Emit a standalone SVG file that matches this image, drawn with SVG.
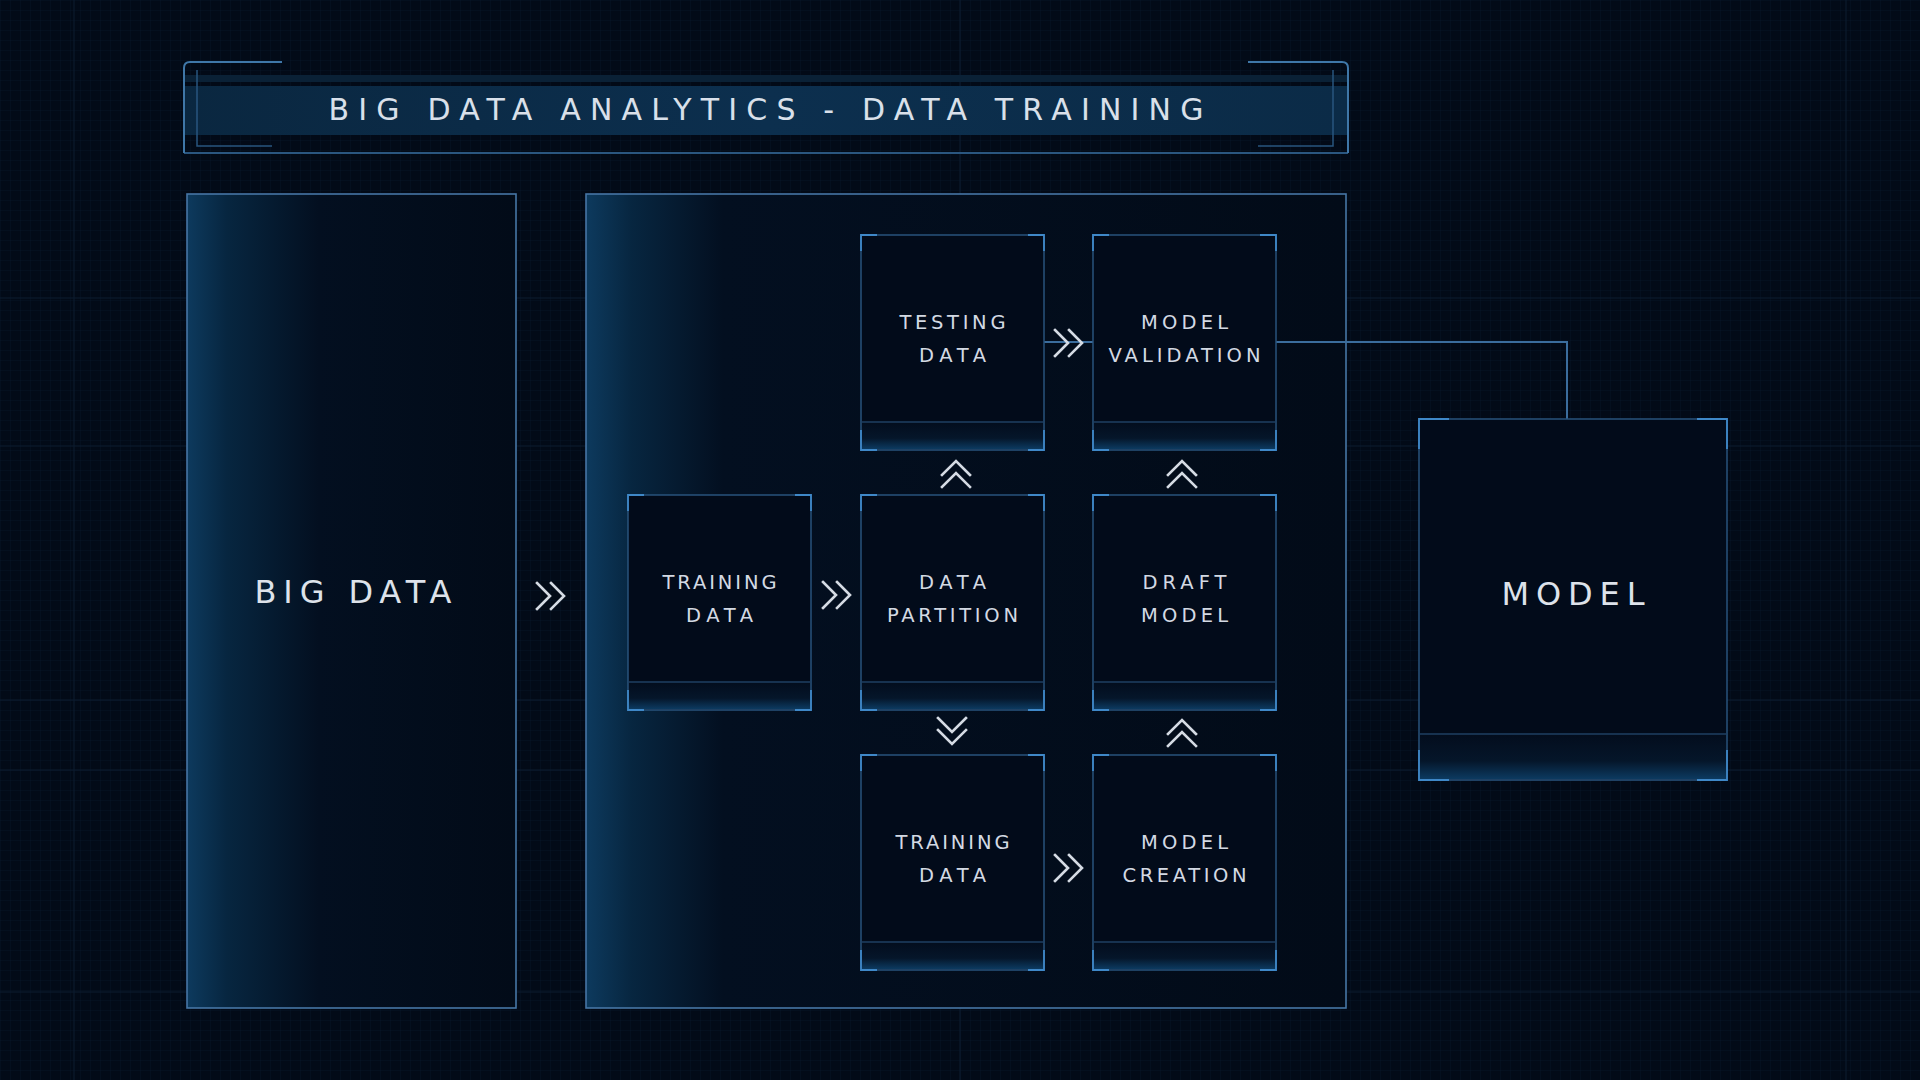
<svg xmlns="http://www.w3.org/2000/svg" width="1920" height="1080" viewBox="0 0 1920 1080">
<defs>
<style>
.lbl{font-family:"DejaVu Sans","Liberation Sans",sans-serif;font-size:19.5px;fill:#d3d9e3;text-anchor:middle}
.big{font-family:"DejaVu Sans","Liberation Sans",sans-serif;font-size:32px;fill:#dde2ea;text-anchor:middle}
.ttl{font-family:"DejaVu Sans","Liberation Sans",sans-serif;font-size:30px;fill:#d9e0ea;text-anchor:middle}
.box{fill:#020b1a;stroke:#29537c;stroke-width:1.5}
.band{fill:url(#bandg);stroke:none}
.bline{stroke:#173250;stroke-width:2;fill:none}
.acc{stroke:#3f88c8;stroke-width:1.8;fill:none}
.chev{stroke:#d5dbe4;stroke-width:2.6;fill:none;stroke-linecap:square}
.panel{fill:url(#panelg);stroke:#4676a6;stroke-width:1.6}
.conn{stroke:#3b6d9d;stroke-width:2;fill:none}
.grid{stroke:#0c1d30;stroke-width:1;fill:none}
</style>
<linearGradient id="panelg" x1="0" y1="0" x2="1" y2="0">
<stop offset="0" stop-color="#0d3a5e"/>
<stop offset="0.12" stop-color="#072640"/>
<stop offset="0.4" stop-color="#030f20"/>
<stop offset="1" stop-color="#020b18"/>
</linearGradient>
<linearGradient id="panelg2" x1="0" y1="0" x2="1" y2="0">
<stop offset="0" stop-color="#0d3a5e"/>
<stop offset="0.06" stop-color="#072640"/>
<stop offset="0.18" stop-color="#030f20"/>
<stop offset="1" stop-color="#020b18"/>
</linearGradient>
<linearGradient id="bandg" x1="0" y1="0" x2="0" y2="1">
<stop offset="0" stop-color="#030d1d"/>
<stop offset="0.6" stop-color="#05162a"/>
<stop offset="1" stop-color="#0c3a60"/>
</linearGradient>
<linearGradient id="titleg" x1="0" y1="0" x2="1" y2="0">
<stop offset="0" stop-color="#0a2740"/>
<stop offset="0.5" stop-color="#0c2f4e"/>
<stop offset="1" stop-color="#0b2b47"/>
</linearGradient>
<pattern id="fine" width="10" height="10" patternUnits="userSpaceOnUse">
<path d="M10 0H0V10" fill="none" stroke="#061426" stroke-width="1"/>
</pattern>
<g id="chevR"><path class="chev" d="M-14 -13L-1 0L-14 13M0 -13L13 0L0 13"/></g>
<g id="chevU"><path class="chev" d="M-14 1L0 -13L14 1M-14 13L0 -1L14 13"/></g>
<g id="chevD"><path class="chev" d="M-14 -13L0 1L14 -13M-14 -1L0 13L14 -1"/></g>
</defs>

<rect width="1920" height="1080" fill="#020a17"/>
<rect width="1920" height="1080" fill="url(#fine)"/>
<g id="bg-lines" class="grid">
<path d="M0 298H1920M0 446H1920M0 700H1920M0 770H1920M0 992H1920M74 0V1080M1846 0V1080M665 193V1008M1253 193V1008M960 0V1080"/>
</g>

<g id="title">
<rect x="184" y="75" width="1164" height="7" fill="#0a2136"/>
<rect x="184" y="86" width="1164" height="49" fill="url(#titleg)"/>
<path d="M184 153H1348" stroke="#2a5680" stroke-width="2" fill="none"/>
<path d="M184 153V68Q184 62 190 62H282" stroke="#3f77a8" stroke-width="2" fill="none"/>
<path d="M197 70V146H272" stroke="#29557f" stroke-width="1.5" fill="none"/>
<path d="M1348 153V68Q1348 62 1342 62H1248" stroke="#3f77a8" stroke-width="2" fill="none"/>
<path d="M1333 70V146H1258" stroke="#29557f" stroke-width="1.5" fill="none"/>
<text class="ttl" x="766" y="120" textLength="875" lengthAdjust="spacing">BIG DATA ANALYTICS - DATA TRAINING</text>
</g>

<g id="panel-bigdata">
<rect class="panel" x="187" y="194" width="329" height="814"/>
<text class="big" x="353" y="603" textLength="197" lengthAdjust="spacing">BIG DATA</text>
</g>

<g id="panel-process">
<rect class="panel" x="586" y="194" width="760" height="814" style="fill:url(#panelg2)"/>
</g>

<g id="connectors">
<polyline class="conn" points="1044,342 1567,342 1567,419"/>
<use href="#chevR" x="551" y="596"/>
<use href="#chevR" x="837" y="595"/>
<use href="#chevR" x="1069" y="343"/>
<use href="#chevR" x="1069" y="868"/>
<use href="#chevU" x="956" y="474"/>
<use href="#chevU" x="1182" y="474"/>
<use href="#chevD" x="952" y="731"/>
<use href="#chevU" x="1182" y="733"/>
</g>

<g id="node-testing" transform="translate(861,235)">
<rect class="box" width="183" height="215"/>
<rect class="band" x="1" y="187" width="181" height="27"/>
<path class="bline" d="M1 187H182"/>
<path class="acc" d="M0 16V0H16M167 0H183V16M0 195V215H16M167 215H183V195"/>
<text class="lbl" x="91.5" y="94" textLength="106" lengthAdjust="spacing">TESTING</text>
<text class="lbl" x="91.5" y="127" textLength="67" lengthAdjust="spacing">DATA</text>
</g>

<g id="node-validation" transform="translate(1093,235)">
<rect class="box" width="183" height="215"/>
<rect class="band" x="1" y="187" width="181" height="27"/>
<path class="bline" d="M1 187H182"/>
<path class="acc" d="M0 16V0H16M167 0H183V16M0 195V215H16M167 215H183V195"/>
<text class="lbl" x="91.5" y="94" textLength="87" lengthAdjust="spacing">MODEL</text>
<text class="lbl" x="91.5" y="127" textLength="152" lengthAdjust="spacing">VALIDATION</text>
</g>

<g id="node-training1" transform="translate(628,495)">
<rect class="box" width="183" height="215"/>
<rect class="band" x="1" y="187" width="181" height="27"/>
<path class="bline" d="M1 187H182"/>
<path class="acc" d="M0 16V0H16M167 0H183V16M0 195V215H16M167 215H183V195"/>
<text class="lbl" x="91.5" y="94" textLength="114" lengthAdjust="spacing">TRAINING</text>
<text class="lbl" x="91.5" y="127" textLength="67" lengthAdjust="spacing">DATA</text>
</g>

<g id="node-partition" transform="translate(861,495)">
<rect class="box" width="183" height="215"/>
<rect class="band" x="1" y="187" width="181" height="27"/>
<path class="bline" d="M1 187H182"/>
<path class="acc" d="M0 16V0H16M167 0H183V16M0 195V215H16M167 215H183V195"/>
<text class="lbl" x="91.5" y="94" textLength="67" lengthAdjust="spacing">DATA</text>
<text class="lbl" x="91.5" y="127" textLength="131" lengthAdjust="spacing">PARTITION</text>
</g>

<g id="node-draft" transform="translate(1093,495)">
<rect class="box" width="183" height="215"/>
<rect class="band" x="1" y="187" width="181" height="27"/>
<path class="bline" d="M1 187H182"/>
<path class="acc" d="M0 16V0H16M167 0H183V16M0 195V215H16M167 215H183V195"/>
<text class="lbl" x="91.5" y="94" textLength="84" lengthAdjust="spacing">DRAFT</text>
<text class="lbl" x="91.5" y="127" textLength="87" lengthAdjust="spacing">MODEL</text>
</g>

<g id="node-training2" transform="translate(861,755)">
<rect class="box" width="183" height="215"/>
<rect class="band" x="1" y="187" width="181" height="27"/>
<path class="bline" d="M1 187H182"/>
<path class="acc" d="M0 16V0H16M167 0H183V16M0 195V215H16M167 215H183V195"/>
<text class="lbl" x="91.5" y="94" textLength="114" lengthAdjust="spacing">TRAINING</text>
<text class="lbl" x="91.5" y="127" textLength="67" lengthAdjust="spacing">DATA</text>
</g>

<g id="node-creation" transform="translate(1093,755)">
<rect class="box" width="183" height="215"/>
<rect class="band" x="1" y="187" width="181" height="27"/>
<path class="bline" d="M1 187H182"/>
<path class="acc" d="M0 16V0H16M167 0H183V16M0 195V215H16M167 215H183V195"/>
<text class="lbl" x="91.5" y="94" textLength="87" lengthAdjust="spacing">MODEL</text>
<text class="lbl" x="91.5" y="127" textLength="124" lengthAdjust="spacing">CREATION</text>
</g>

<g id="node-model" transform="translate(1419,419)">
<rect class="box" width="308" height="361"/>
<rect class="band" x="1" y="315" width="306" height="45"/>
<path class="bline" d="M1 315H307"/>
<path class="acc" d="M0 30V0H30M278 0H308V30M0 331V361H30M278 361H308V331"/>
<text class="big" x="154" y="186" font-size="31" textLength="143" lengthAdjust="spacing">MODEL</text>
</g>
</svg>
